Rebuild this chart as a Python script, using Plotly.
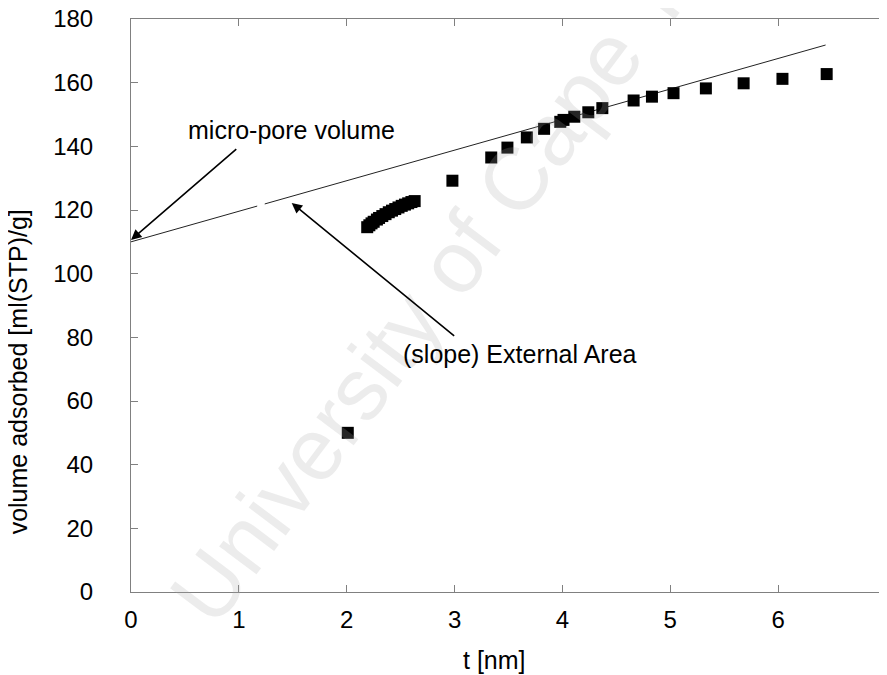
import plotly.graph_objects as go

# Measured data: t [nm] vs volume adsorbed [ml(STP)/g]
t_nm = [2.01,
        2.19, 2.21, 2.23, 2.25, 2.28, 2.30, 2.33, 2.36, 2.39, 2.42, 2.45, 2.48, 2.51, 2.54, 2.57, 2.60, 2.63,
        2.98, 3.34, 3.49, 3.67, 3.83, 3.98, 4.01, 4.11, 4.24, 4.37, 4.66, 4.83, 5.03, 5.33, 5.68, 6.04, 6.45]
vol = [50.0,
       114.6, 115.2, 115.8, 116.3, 117.0, 117.5, 118.1, 118.7, 119.3, 119.8, 120.3, 120.8, 121.3, 121.7, 122.1, 122.5, 122.8,
       129.2, 136.5, 139.6, 142.8, 145.5, 147.7, 148.3, 149.3, 150.7, 152.0, 154.4, 155.6, 156.7, 158.2, 159.8, 161.2, 162.7]

# Linear t-plot fit: intercept = micro-pore volume, slope ~ external area
fit_intercept = 110.0
fit_slope = 9.6
fit_t = [0.0, 1.17, None, 1.24, 6.44]
fit_v = [None if t is None else fit_intercept + fit_slope * t for t in fit_t]

x_ticks = [0, 1, 2, 3, 4, 5, 6, 7]
y_ticks = [0, 20, 40, 60, 80, 100, 120, 140, 160, 180]

FONT = "Liberation Sans, Arial, sans-serif"
FS = 24

fig = go.Figure()
fig.add_trace(go.Scatter(x=fit_t, y=fit_v, mode="lines",
                         line=dict(color="#222222", width=1), connectgaps=False,
                         hoverinfo="skip", showlegend=False))
fig.add_trace(go.Scatter(x=t_nm, y=vol, mode="markers",
                         marker=dict(symbol="square", size=12, color="black"),
                         showlegend=False))

# Watermark
fig.add_annotation(text="University of Cape Town", xref="paper", yref="paper",
                   x=0.456, y=0.625, xanchor="center", yanchor="middle",
                   showarrow=False, textangle=-53,
                   font=dict(family=FONT, size=88, color="rgba(170,170,170,0.22)"))

fig.add_annotation(x=0, y=110.6, ax=0.99, ay=139.5, xref="x", yref="y",
                   axref="x", ayref="y", showarrow=True, arrowhead=2,
                   arrowsize=1.3, arrowwidth=1.6, arrowcolor="black", text="")
fig.add_annotation(x=1.49, y=145.1, xref="x", yref="y", text="micro-pore volume",
                   showarrow=False, font=dict(family=FONT, size=25, color="black"))
fig.add_annotation(x=1.49, y=122.2, ax=3.01, ay=80.1, xref="x", yref="y",
                   axref="x", ayref="y", showarrow=True, arrowhead=2,
                   arrowsize=1.3, arrowwidth=1.6, arrowcolor="black", text="")
fig.add_annotation(x=3.605, y=74.8, xref="x", yref="y", text="(slope) External Area",
                   showarrow=False, font=dict(family=FONT, size=25, color="black"))

# Axis titles
fig.add_annotation(text="t [nm]", xref="paper", yref="paper", x=0.482, y=-0.119,
                   xanchor="center", yanchor="middle",
                   showarrow=False, font=dict(family=FONT, size=25, color="black"))
fig.add_annotation(text="volume adsorbed [ml(STP)/g]", xref="paper", yref="paper",
                   x=-0.1497, y=0.385, xanchor="center", yanchor="middle",
                   textangle=-90, showarrow=False,
                   font=dict(family=FONT, size=25, color="black"))

axis_common = dict(showgrid=False, zeroline=False, showline=True, linecolor="#808080",
                   linewidth=1, mirror="ticks", ticks="inside", ticklen=7,
                   tickcolor="#808080", automargin=False, ticklabeloverflow="allow",
                   tickfont=dict(family=FONT, size=FS, color="black"))

fig.update_xaxes(range=[0, 7], tickvals=x_ticks, ticktext=[str(v) for v in x_ticks],
                 ticklabelstandoff=6, **axis_common)
fig.update_yaxes(range=[0, 180], tickvals=y_ticks, ticktext=[str(v) for v in y_ticks],
                 ticklabelstandoff=32, **axis_common)

# The page body adds an 8px offset, so the figure is sized to sit inside the window.
fig.update_layout(width=879, height=667, margin=dict(l=123, r=1, t=11, b=83),
                  paper_bgcolor="white", plot_bgcolor="white",
                  font=dict(family=FONT, color="black"))

fig.write_html("out.html")
